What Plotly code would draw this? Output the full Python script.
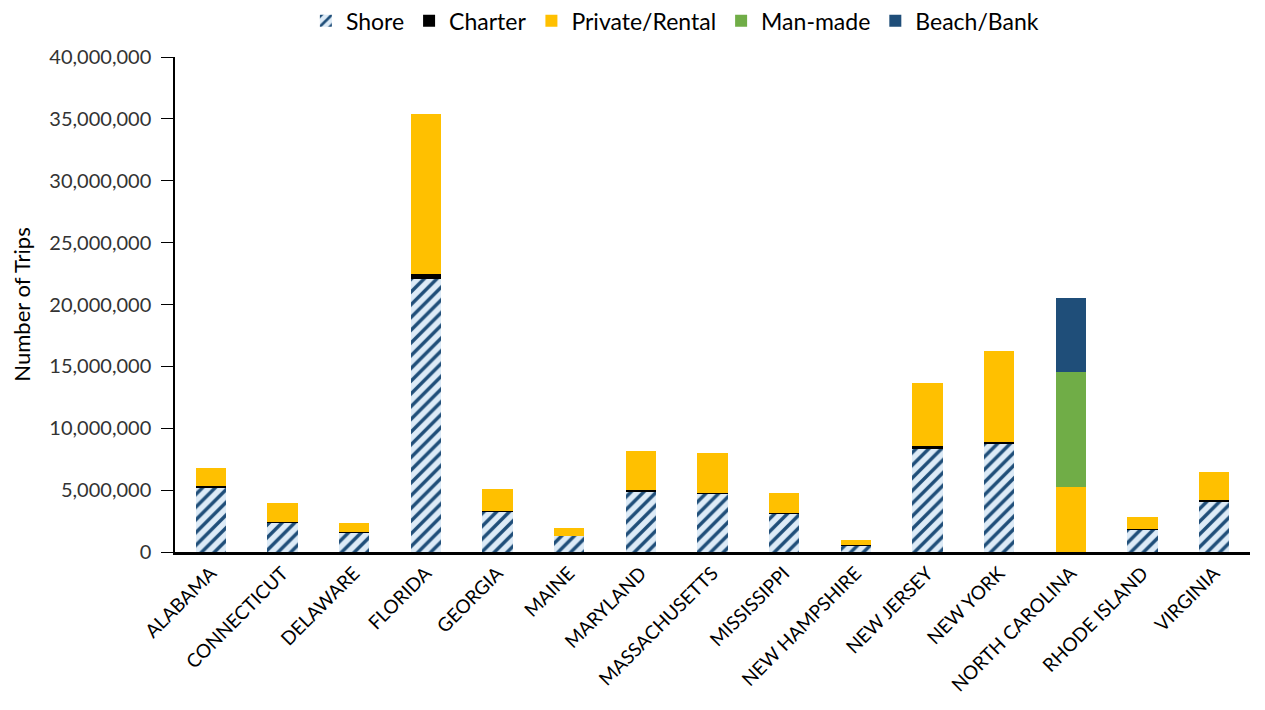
import plotly.graph_objects as go

# Recreational fishing trips by state and mode
states = [
    "ALABAMA", "CONNECTICUT", "DELAWARE", "FLORIDA", "GEORGIA", "MAINE",
    "MARYLAND", "MASSACHUSETTS", "MISSISSIPPI", "NEW HAMPSHIRE",
    "NEW JERSEY", "NEW YORK", "NORTH CAROLINA", "RHODE ISLAND", "VIRGINIA",
]
shore = [5250000, 2350000, 1600000, 22100000, 3300000, 1300000, 4900000,
         4700000, 3100000, 500000, 8400000, 8800000, 0, 1780000, 4100000]
charter = [100000, 50000, 30000, 350000, 50000, 30000, 100000,
           100000, 50000, 30000, 150000, 100000, 0, 80000, 100000]
private_rental = [1450000, 1550000, 720000, 12950000, 1750000, 620000, 3150000,
                  3200000, 1600000, 420000, 5100000, 7350000, 5250000, 990000, 2250000]
man_made = [0, 0, 0, 0, 0, 0, 0, 0, 0, 0, 0, 0, 9300000, 0, 0]
beach_bank = [0, 0, 0, 0, 0, 0, 0, 0, 0, 0, 0, 0, 5950000, 0, 0]

y_ticks = [0, 5000000, 10000000, 15000000, 20000000, 25000000,
           30000000, 35000000, 40000000]

FONT = "Lato, 'Liberation Sans', sans-serif"
TXT = "#333333"

fig = go.Figure()

fig.add_trace(go.Bar(
    x=states, y=shore, name="Shore",
    marker=dict(
        color="#DDEBF7",
        line=dict(width=0),
        pattern=dict(shape="/", fgcolor="#1F4E79", bgcolor="#DDEBF7",
                     size=9, solidity=0.38, fillmode="replace"),
    ),
))
fig.add_trace(go.Bar(x=states, y=charter, name="Charter",
                     marker=dict(color="#000000", line=dict(width=0))))
fig.add_trace(go.Bar(x=states, y=private_rental, name="Private/Rental",
                     marker=dict(color="#FFC000", line=dict(width=0))))
fig.add_trace(go.Bar(x=states, y=man_made, name="Man-made",
                     marker=dict(color="#70AD47", line=dict(width=0))))
fig.add_trace(go.Bar(x=states, y=beach_bank, name="Beach/Bank",
                     marker=dict(color="#1F4E79", line=dict(width=0))))

# page body adds an 8px offset, so margins are set in figure coordinates
fig.update_layout(
    barmode="stack",
    bargap=0.58,
    width=1265, height=710,
    margin=dict(l=167, r=23, t=49, b=166, autoexpand=False),
    paper_bgcolor="white",
    plot_bgcolor="white",
    font=dict(family=FONT, size=20, color=TXT),
    showlegend=True,
    legend=dict(
        orientation="h",
        x=0.465, xanchor="center",
        yref="container", y=0.982, yanchor="middle",
        font=dict(family=FONT, size=23, color="#000000"),
        itemwidth=30,
        traceorder="normal",
    ),
)

fig.update_xaxes(
    showline=True, linecolor="#000000", linewidth=2.5,
    showgrid=False, ticks="",
    tickangle=-45,
    automargin=False,
    tickfont=dict(family=FONT, size=19, color="#000000"),
)
fig.update_yaxes(
    range=[0, 40000000],
    tickvals=y_ticks,
    tickformat=",d",
    showline=True, linecolor="#000000", linewidth=1.5,
    ticks="outside", ticklen=12, tickcolor="#000000",
    ticklabelstandoff=6,
    showgrid=False, zeroline=False,
    automargin=True,
    tickfont=dict(family=FONT, size=20, color=TXT),
    title=dict(text="Number of Trips",
               font=dict(family=FONT, size=22, color="#000000"),
               standoff=22),
)

fig.write_html("out.html")
